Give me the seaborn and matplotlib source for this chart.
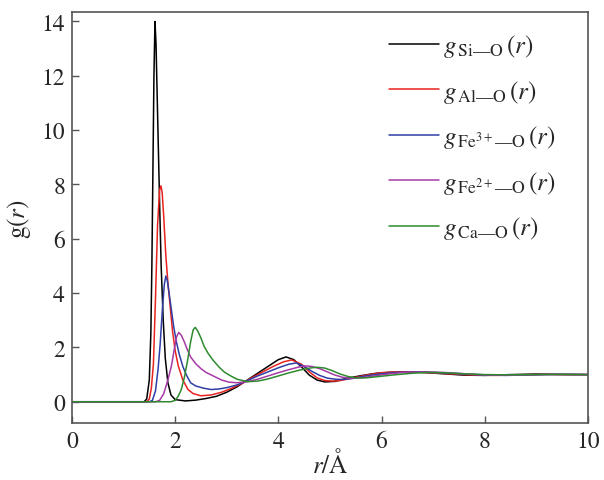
import numpy as np
import pandas as pd
import matplotlib
matplotlib.use("Agg")
import matplotlib.pyplot as plt
import seaborn as sns

# ---- data ----
r_si = [0, 1.40, 1.45, 1.50, 1.53, 1.55, 1.57, 1.59, 1.61, 1.63, 1.65, 1.67, 1.70, 1.73, 1.77, 1.81, 1.86,
        1.92, 2.0, 2.2, 2.4, 2.6, 2.8, 3.0, 3.2, 3.4, 3.6, 3.8, 4.0, 4.15, 4.3, 4.45, 4.6, 4.75, 4.9, 5.1,
        5.3, 5.6, 5.9, 6.2, 6.5, 6.8, 7.2, 7.6, 8.0, 8.5, 9.0, 9.5, 10.0]
g_si = [0, 0, 0.1, 0.8, 2.5, 5.0, 8.5, 12.0, 14.0, 13.2, 11.5, 9.8, 7.3, 5.0, 3.0, 1.6, 0.7,
        0.25, 0.08, 0.03, 0.06, 0.12, 0.2, 0.35, 0.55, 0.8, 1.05, 1.3, 1.55, 1.65, 1.55, 1.28, 0.98, 0.8, 0.73, 0.75,
        0.85, 0.96, 1.05, 1.09, 1.1, 1.08, 1.03, 0.98, 0.97, 1.0, 1.02, 1.0, 1.0]

r_al = [0, 1.45, 1.50, 1.54, 1.58, 1.62, 1.66, 1.70, 1.725, 1.75, 1.78, 1.82, 1.86, 1.90, 1.95, 2.0, 2.06,
        2.15, 2.25, 2.35, 2.5, 2.7, 2.9, 3.1, 3.3, 3.5, 3.7, 3.9, 4.1, 4.26, 4.45, 4.6, 4.75, 4.9, 5.05,
        5.2, 5.4, 5.7, 6.0, 6.3, 6.6, 7.0, 7.4, 7.8, 8.2, 8.7, 9.2, 9.6, 10.0]
g_al = [0, 0, 0.1, 0.5, 1.4, 3.8, 6.5, 7.8, 7.95, 7.7, 6.8, 5.4, 4.4, 3.6, 2.6, 1.9, 1.33,
        0.8, 0.45, 0.3, 0.22, 0.25, 0.35, 0.5, 0.68, 0.9, 1.1, 1.3, 1.47, 1.54, 1.38, 1.1, 0.88, 0.78, 0.76,
        0.78, 0.86, 0.98, 1.07, 1.1, 1.1, 1.06, 1.02, 0.98, 0.97, 0.99, 1.01, 1.0, 1.0]

r_fe3 = [0, 1.50, 1.56, 1.62, 1.67, 1.71, 1.75, 1.79, 1.82, 1.85, 1.88, 1.92, 1.97, 2.02, 2.08, 2.15, 2.22,
         2.3, 2.4, 2.55, 2.7, 2.85, 3.0, 3.2, 3.4, 3.6, 3.8, 4.0, 4.2, 4.35, 4.5, 4.65, 4.8, 4.95, 5.1,
         5.25, 5.45, 5.7, 6.0, 6.3, 6.7, 7.1, 7.5, 7.9, 8.4, 8.9, 9.4, 10.0]
g_fe3 = [0, 0, 0.05, 0.4, 1.2, 2.1, 3.3, 4.3, 4.63, 4.45, 4.05, 3.5, 2.8, 2.25, 1.75, 1.3, 0.98,
         0.7, 0.58, 0.5, 0.45, 0.47, 0.52, 0.62, 0.78, 0.95, 1.1, 1.25, 1.38, 1.43, 1.3, 1.12, 0.97, 0.87, 0.83,
         0.82, 0.86, 0.95, 1.03, 1.08, 1.1, 1.07, 1.03, 0.99, 0.97, 0.99, 1.01, 1.0]

r_fe2 = [0, 1.62, 1.70, 1.78, 1.86, 1.93, 1.99, 2.03, 2.07, 2.12, 2.18, 2.24, 2.3, 2.4, 2.5, 2.6, 2.74,
         2.9, 3.05, 3.2, 3.4, 3.6, 3.8, 4.0, 4.2, 4.4, 4.52, 4.65, 4.8, 4.95, 5.1, 5.25, 5.4, 5.6, 5.9,
         6.2, 6.5, 6.9, 7.3, 7.7, 8.1, 8.6, 9.1, 9.6, 10.0]
g_fe2 = [0, 0, 0.05, 0.3, 0.8, 1.33, 2.0, 2.4, 2.55, 2.45, 2.2, 1.9, 1.65, 1.4, 1.22, 1.08, 0.95,
         0.8, 0.72, 0.7, 0.74, 0.83, 0.95, 1.07, 1.18, 1.28, 1.32, 1.3, 1.22, 1.1, 0.98, 0.9, 0.86, 0.88, 0.96,
         1.04, 1.09, 1.1, 1.07, 1.02, 0.98, 0.98, 1.0, 1.01, 1.0]

r_ca = [0, 1.92, 2.0, 2.06, 2.12, 2.18, 2.24, 2.3, 2.35, 2.39, 2.44, 2.5, 2.56, 2.64, 2.74, 2.85, 2.95,
        3.06, 3.2, 3.4, 3.6, 3.8, 4.0, 4.2, 4.4, 4.6, 4.75, 4.9, 5.05, 5.2, 5.35, 5.5, 5.7, 6.0, 6.3,
        6.6, 6.9, 7.2, 7.6, 8.0, 8.5, 9.0, 9.5, 10.0]
g_ca = [0, 0, 0.05, 0.2, 0.45, 0.9, 1.5, 2.2, 2.65, 2.74, 2.6, 2.35, 2.05, 1.78, 1.52, 1.28, 1.1,
        0.97, 0.83, 0.74, 0.76, 0.84, 0.95, 1.06, 1.16, 1.24, 1.27, 1.24, 1.14, 1.02, 0.93, 0.88, 0.88, 0.94, 1.0,
        1.05, 1.08, 1.07, 1.03, 1.0, 0.99, 1.0, 1.01, 1.0]

labels = [r'$g_{\,\mathrm{Si—O}}\,(r)$',
          r'$g_{\,\mathrm{Al—O}}\,(r)$',
          r'$g_{\,\mathrm{Fe}^{3+}\mathrm{—O}}\,(r)$',
          r'$g_{\,\mathrm{Fe}^{2+}\mathrm{—O}}\,(r)$',
          r'$g_{\,\mathrm{Ca—O}}\,(r)$']
xticks = [0, 2, 4, 6, 8, 10]
yticks = [0, 2, 4, 6, 8, 10, 12, 14]

series = [(r_si, g_si), (r_al, g_al), (r_fe3, g_fe3), (r_fe2, g_fe2), (r_ca, g_ca)]
colors = ['#000000', '#e8231f', '#2f3fa5', '#a63aa6', '#2e8a2e']

sns.set_style('ticks')
plt.rcParams['font.family'] = ['STIXGeneral', 'Liberation Serif', 'DejaVu Serif']
plt.rcParams['mathtext.fontset'] = 'stix'

fig = plt.figure(figsize=(6.04, 4.81), dpi=100)
ax = fig.add_axes([0.119, 0.1175, 0.8545, 0.8555])

for (rr, gg), lab, col in zip(series, labels, colors):
    df = pd.DataFrame({'r': rr, 'g': gg})
    sns.lineplot(data=df, x='r', y='g', ax=ax, color=col, lw=1.1, label=lab, sort=False)

ax.set_xlim(0, 10)
ax.set_ylim(-0.8, 14.35)
ax.set_xticks(xticks)
ax.set_yticks(yticks)
ax.tick_params(direction='in', length=5, width=1, labelsize=17, color='#555555', pad=5)
for s in ax.spines.values():
    s.set_color('#555555')
    s.set_linewidth(1.2)
ax.set_xlabel(r'$r$/Å', fontsize=18, labelpad=-2)
ax.set_ylabel(r'g($r$)', fontsize=18, labelpad=6)

leg = ax.legend(loc='upper left', bbox_to_anchor=(0.596, 0.975), frameon=False, fontsize=18,
                handlelength=2.0, labelspacing=0.74, handletextpad=0.15, borderaxespad=0)

fig.savefig('out.png', dpi=100)
